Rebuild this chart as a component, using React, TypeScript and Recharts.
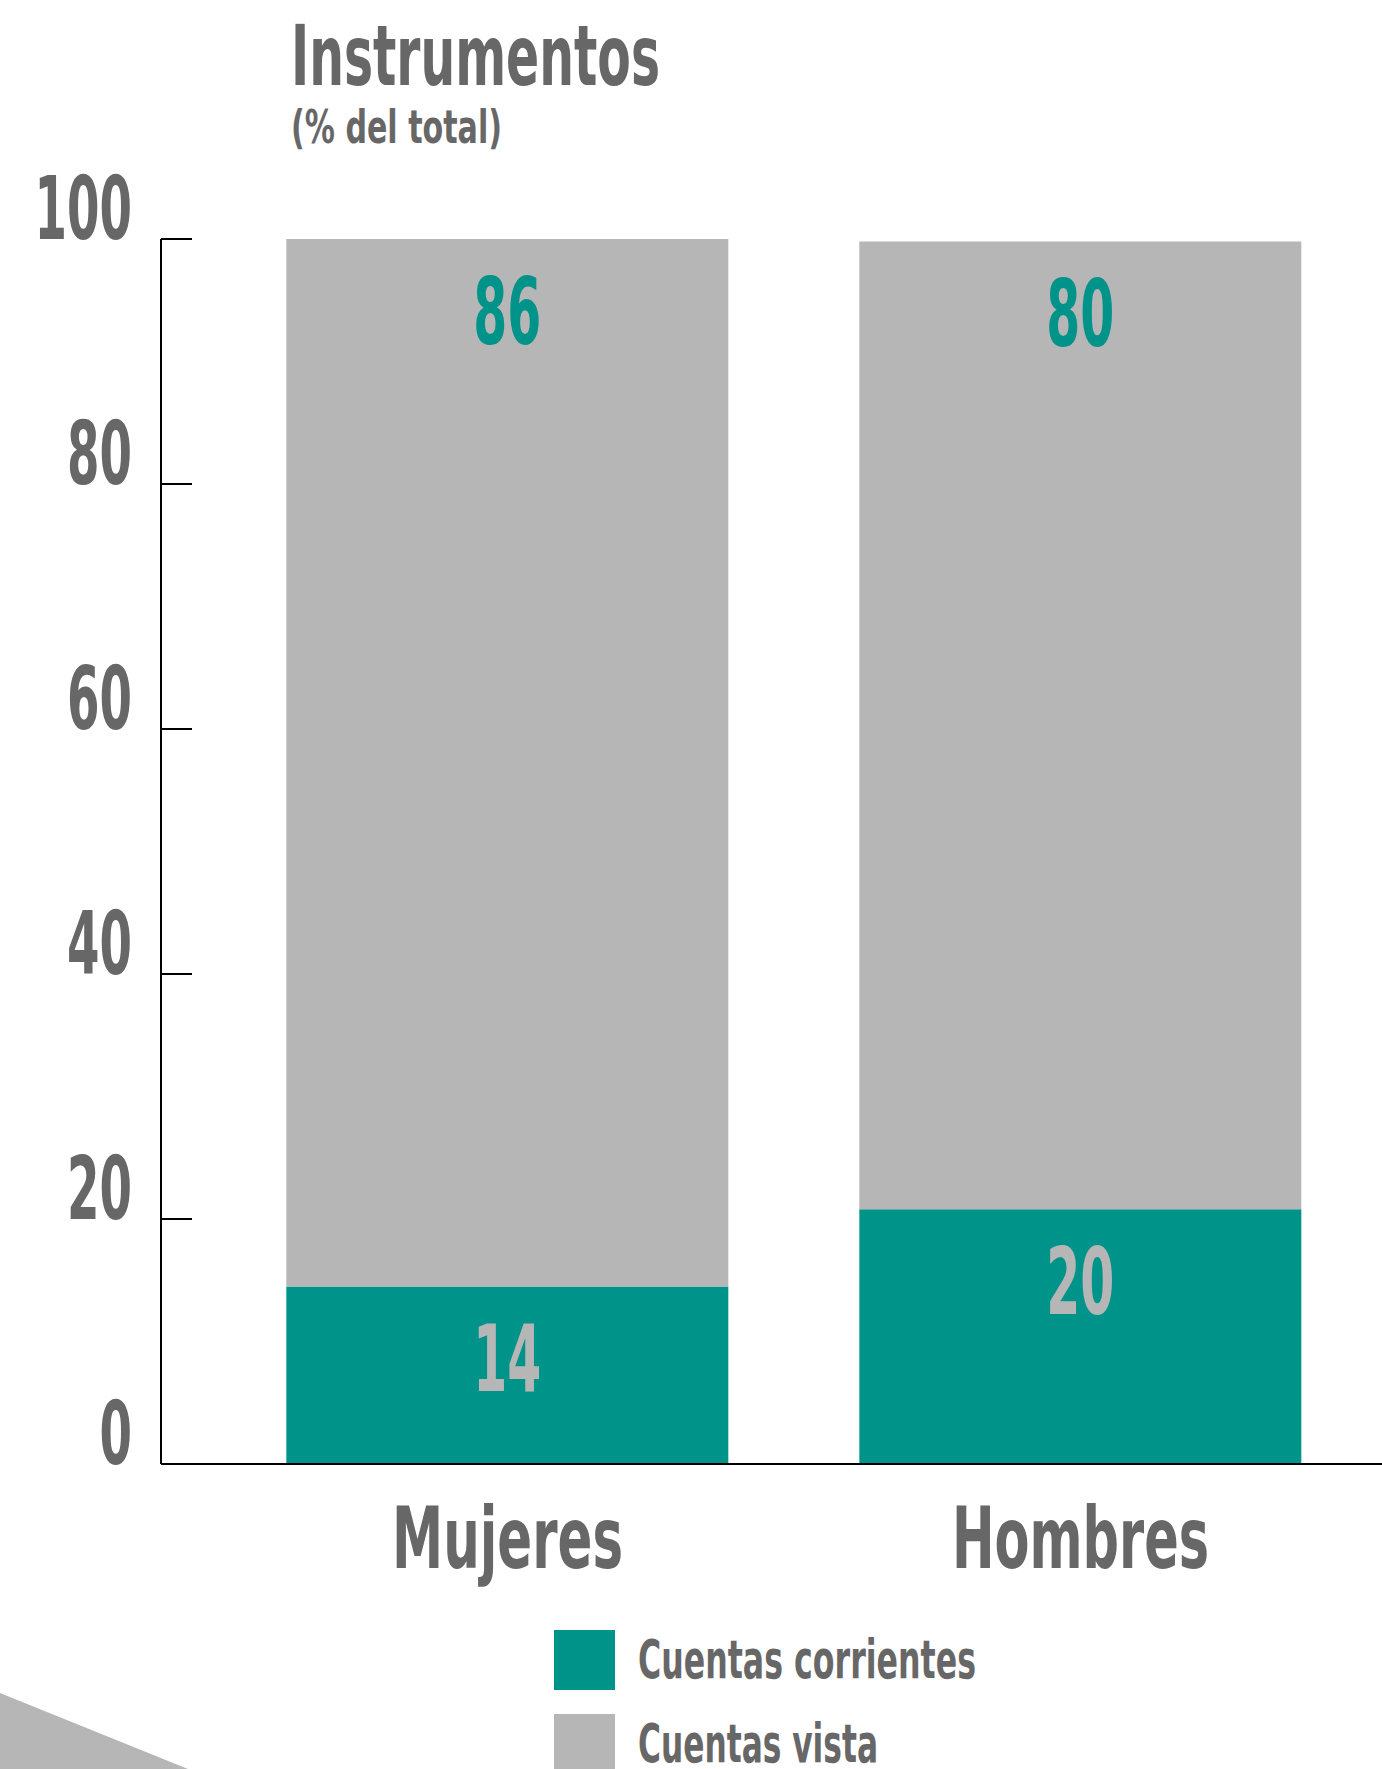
import { BarChart, Bar, XAxis, YAxis, LabelList } from "recharts";

const categories = ["Mujeres", "Hombres"];
const cuentasCorrientes = [14.5, 20.8];
const cuentasVista = [85.5, 79.0];
const corrientesLabels = ["14", "20"];
const vistaLabels = ["86", "80"];
const seriesNames = ["Cuentas corrientes", "Cuentas vista"];
const yTicks = [0, 20, 40, 60, 80, 100];

const TEAL = "#009389";
const GREY = "#b6b6b6";
const TEXT = "#676767";
const FONT = '"Liberation Sans Narrow", "DejaVu Sans Condensed", "Roboto", sans-serif';

// widths of the condensed type in the original, used with textLength
const categoryWidths: Record<string, number> = { Mujeres: 231, Hombres: 257 };
const legendWidths: Record<string, number> = {
  "Cuentas corrientes": 338,
  "Cuentas vista": 240,
};

const data = categories.map((name, i) => ({
  name,
  corrientes: cuentasCorrientes[i],
  vista: cuentasVista[i],
  corrientesLabel: corrientesLabels[i],
  vistaLabel: vistaLabels[i],
}));

function YTick({ x, y, payload }: any) {
  const s = String(payload.value);
  return (
    <g>
      <line x1={x} x2={x + 31} y1={y} y2={y} stroke="#000" strokeWidth={2} />
      <text
        x={x - 29}
        y={y}
        textAnchor="end"
        fontFamily={FONT}
        fontWeight="bold"
        fontSize={87}
        fill={TEXT}
        textLength={s.length * 32.5}
        lengthAdjust="spacingAndGlyphs"
      >
        {s}
      </text>
    </g>
  );
}

function XTick({ x, y, payload }: any) {
  const s = String(payload.value);
  return (
    <text
      x={x}
      y={y + 104}
      textAnchor="middle"
      fontFamily={FONT}
      fontWeight="bold"
      fontSize={86}
      fill={TEXT}
      textLength={categoryWidths[s]}
      lengthAdjust="spacingAndGlyphs"
    >
      {s}
    </text>
  );
}

function makeLabel(color: string) {
  return function BarLabel({ x, y, width, value }: any) {
    const s = String(value);
    return (
      <text
        x={x + width / 2}
        y={y + 105}
        textAnchor="middle"
        fontFamily={FONT}
        fontWeight="bold"
        fontSize={92}
        fill={color}
        textLength={s.length * 34}
        lengthAdjust="spacingAndGlyphs"
      >
        {s}
      </text>
    );
  };
}

export default function App() {
  return (
    <div
      style={{
        position: "absolute",
        left: 0,
        top: 0,
        width: 1382,
        height: 1769,
        background: "#fff",
        overflow: "hidden",
      }}
    >
      <BarChart
        width={1382}
        height={1769}
        data={data}
        margin={{ top: 239, right: 0, left: 0, bottom: 0 }}
        barCategoryGap="11.4%"
      >
        <YAxis
          width={161}
          domain={[0, 100]}
          ticks={yTicks}
          interval={0}
          tickSize={0}
          tickMargin={0}
          tickLine={false}
          axisLine={{ stroke: "#000", strokeWidth: 2 }}
          tick={<YTick />}
        />
        <XAxis
          dataKey="name"
          height={305}
          padding={{ left: 60, right: 15 }}
          tickSize={0}
          tickMargin={0}
          tickLine={false}
          axisLine={{ stroke: "#000", strokeWidth: 2 }}
          tick={<XTick />}
          interval={0}
        />
        <Bar dataKey="corrientes" stackId="a" fill={TEAL} isAnimationActive={false}>
          <LabelList dataKey="corrientesLabel" content={makeLabel(GREY)} />
        </Bar>
        <Bar dataKey="vista" stackId="a" fill={GREY} isAnimationActive={false}>
          <LabelList dataKey="vistaLabel" content={makeLabel(TEAL)} />
        </Bar>
      </BarChart>

      <svg
        width={1382}
        height={1769}
        style={{ position: "absolute", left: 0, top: 0, pointerEvents: "none" }}
      >
        <text
          x={291}
          y={85}
          fontFamily={FONT}
          fontWeight="bold"
          fontSize={83}
          fill={TEXT}
          textLength={369}
          lengthAdjust="spacingAndGlyphs"
        >
          Instrumentos
        </text>
        <text
          x={291}
          y={143}
          fontFamily={FONT}
          fontWeight="bold"
          fontSize={47}
          fill={TEXT}
          textLength={211}
          lengthAdjust="spacingAndGlyphs"
        >
          (% del total)
        </text>
        <polygon points="0,1693 188,1769 0,1769" fill={GREY} />
        {seriesNames.map((name, i) => (
          <g key={name}>
            <rect x={554} y={1630 + i * 84} width={61} height={60} fill={i === 0 ? TEAL : GREY} />
            <text
              x={638}
              y={1678 + i * 84}
              fontFamily={FONT}
              fontWeight="bold"
              fontSize={53}
              fill={TEXT}
              textLength={legendWidths[name]}
              lengthAdjust="spacingAndGlyphs"
            >
              {name}
            </text>
          </g>
        ))}
      </svg>
    </div>
  );
}
